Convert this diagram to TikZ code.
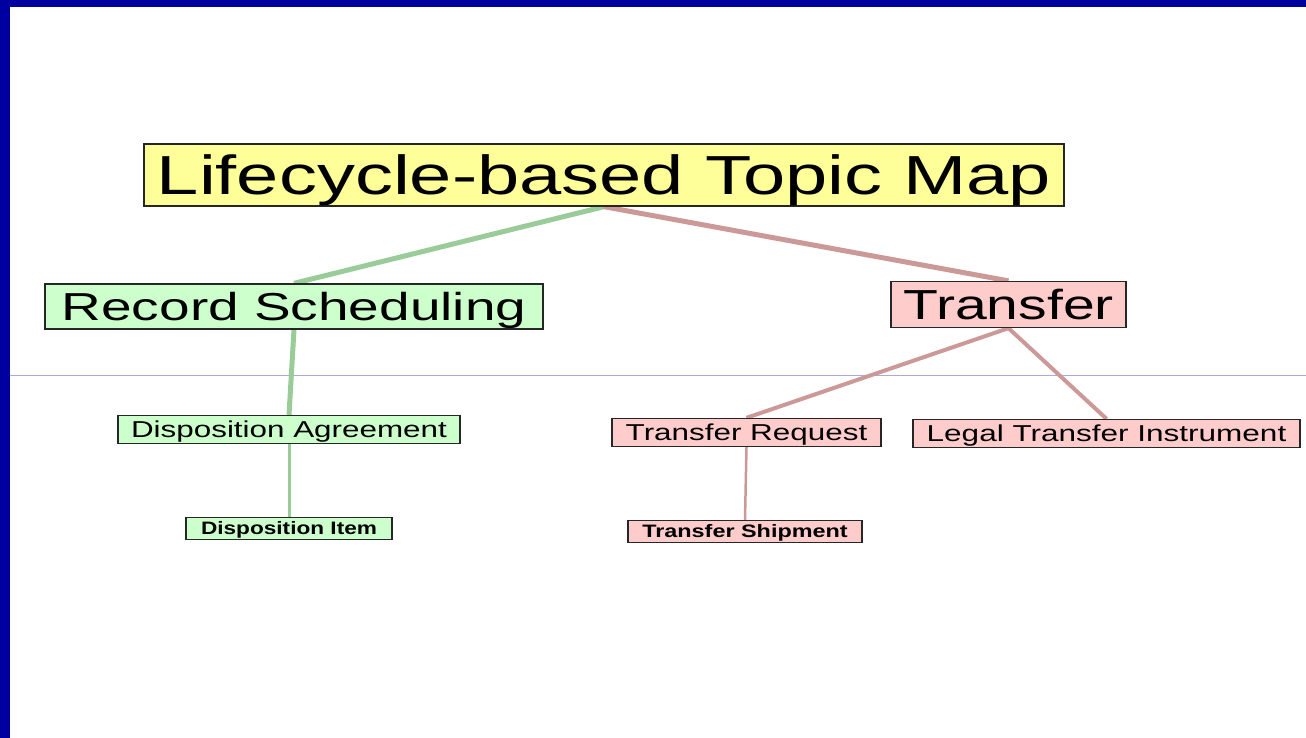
\documentclass[tikz,border=0pt]{standalone}
\usepackage{fontspec}
\setmainfont{Liberation Sans}
\usetikzlibrary{backgrounds}
\pgfdeclarelayer{bottom}
\pgfsetlayers{bottom,background,main}
\definecolor{frameblue}{HTML}{0000A0}
\definecolor{rulecol}{HTML}{AAAADD}
\definecolor{yel}{HTML}{FFFF99}
\definecolor{grn}{HTML}{CCFFCC}
\definecolor{pnk}{HTML}{FFCCCC}
\definecolor{glink}{HTML}{99CC99}
\definecolor{plink}{HTML}{CC9999}
\tikzset{
  box/.style={draw=black!85, line width=1.3pt, inner sep=0pt, align=center, text=black,
    text depth=0pt},
  glinestyle/.style={draw=glink, line width=#1},
  plinestyle/.style={draw=plink, line width=#1},
}
\newcommand{\fs}[1]{\fontsize{#1}{#1}\selectfont}
\newcommand{\wide}[2]{\scalebox{#1}[1]{#2}}
\begin{document}
\begin{tikzpicture}[x=1pt,y=-1pt]
\useasboundingbox (0,0) rectangle (1306,738);
\begin{pgfonlayer}{bottom}
\fill[white] (0,0) rectangle (1306,738);
\fill[frameblue] (0,0) rectangle (1306,7);
\fill[frameblue] (0,0) rectangle (10,738);
\draw[rulecol, line width=1pt] (10,375) -- (1306,375);
\end{pgfonlayer}

\node[box, fill=yel, minimum width=920pt, minimum height=62pt, font=\fs{55}, text height=39.4pt] (title) at (604,175) {\wide{1.38}{Lifecycle-based Topic Map}};
\node[box, fill=grn, minimum width=498pt, minimum height=45pt, font=\fs{39}, text height=27.9pt] (rs) at (294,306.5) {\wide{1.41}{Record Scheduling}};
\node[box, fill=pnk, minimum width=235pt, minimum height=46pt, font=\fs{42}, text height=30.1pt] (tr) at (1008.5,304.5) {\wide{1.36}{Transfer}};
\node[box, fill=grn, minimum width=342pt, minimum height=28pt, font=\fs{23}, text height=16.5pt] (da) at (289,429.5) {\wide{1.365}{Disposition Agreement}};
\node[box, fill=pnk, minimum width=269pt, minimum height=28pt, font=\fs{23}, text height=16.5pt] (treq) at (746.5,432.5) {\wide{1.366}{Transfer Request}};
\node[box, fill=pnk, minimum width=387pt, minimum height=28pt, font=\fs{23}, text height=16.5pt] (lti) at (1106.5,433.5) {\wide{1.37}{Legal Transfer Instrument}};
\node[box, fill=grn, minimum width=206pt, minimum height=22pt, font=\fs{18}\bfseries, text height=12.9pt] (di) at (289,528.5) {\wide{1.257}{Disposition Item}};
\node[box, fill=pnk, minimum width=234pt, minimum height=22pt, font=\fs{18}\bfseries, text height=12.9pt] (ts) at (745,531.5) {\wide{1.30}{Transfer Shipment}};

\begin{pgfonlayer}{background}
\draw[glinestyle=5pt] (title.south) -- (rs.north);
\draw[plinestyle=5pt] (title.south) -- (tr.north);
\draw[glinestyle=5pt] (rs.south) -- (da.north);
\draw[glinestyle=3pt] (da.south) -- (di.north);
\draw[plinestyle=4pt] (tr.south) -- (treq.north);
\draw[plinestyle=4pt] (tr.south) -- (lti.north);
\draw[plinestyle=2.5pt] (treq.south) -- (ts.north);
\end{pgfonlayer}
\end{tikzpicture}
\end{document}
